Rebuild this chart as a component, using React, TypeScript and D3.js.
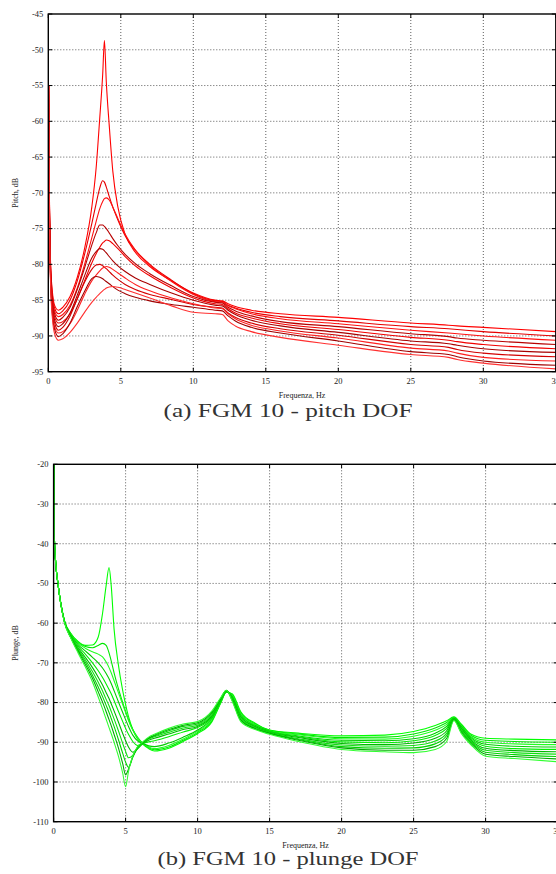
import React, { useEffect, useRef } from "react";
import * as d3 from "d3";

// ---- (a) pitch DOF ----
const pitchFreq = [0.02, 0.08, 0.16, 0.3, 0.45, 0.7, 1.0, 1.5, 2.0, 2.5, 3.0, 3.3, 3.55, 3.75, 3.87, 4.0, 4.2, 4.45, 4.8, 5.3, 6.0, 7.0, 8.5, 10, 11.5, 12.0, 12.4, 12.9, 14, 16, 20, 25, 27.6, 28.2, 30, 35];
const pitch1 = [-55, -71, -80, -84.2, -85.8, -86.4, -86.0, -84.5, -81.8, -77.8, -72.0, -66.5, -59.5, -53.5, -48.7, -54.5, -60.5, -67.0, -72.0, -75.8, -78.3, -80.3, -82.3, -84.0, -85.0, -85.1, -85.5, -85.9, -86.4, -86.9, -87.4, -88.2, -88.5, -88.6, -88.8, -89.4];
const pitch2 = [-55, -71.3, -80.3, -84.6, -86.2, -86.9, -86.5, -85.0, -82.3, -78.6, -74.3, -71.5, -69.3, -68.3, -68.5, -69.2, -70.5, -72.0, -73.8, -76.0, -78.0, -80.0, -82.2, -84.1, -85.1, -85.2, -85.7, -86.1, -86.7, -87.3, -87.9, -88.7, -89.0, -89.1, -89.4, -90.0];
const pitch3 = [-55, -71.6, -80.7, -85.0, -86.6, -87.3, -87.0, -85.7, -83.3, -80.0, -76.3, -74.0, -72.2, -71.2, -70.8, -70.7, -71.0, -72.0, -73.6, -75.8, -78.0, -80.1, -82.4, -84.2, -85.2, -85.3, -85.8, -86.2, -86.9, -87.6, -88.3, -89.2, -89.6, -89.7, -90.0, -90.6];
const pitch4 = [-55, -71.9, -81.0, -85.4, -87.0, -87.8, -87.4, -86.0, -83.5, -80.5, -77.3, -75.6, -74.5, -74.5, -74.7, -75.0, -75.6, -76.4, -77.4, -78.6, -79.9, -81.3, -83.0, -84.5, -85.3, -85.4, -86.0, -86.5, -87.2, -88.0, -88.7, -89.7, -90.1, -90.3, -90.6, -91.2];
const pitch5 = [-55, -72.2, -81.3, -85.8, -87.4, -88.2, -88.0, -86.9, -84.8, -82.3, -79.8, -78.5, -77.6, -77.0, -76.8, -76.6, -76.7, -77.1, -77.8, -78.9, -80.2, -81.6, -83.3, -84.7, -85.5, -85.6, -86.2, -86.8, -87.5, -88.3, -89.1, -90.2, -90.6, -90.8, -91.2, -91.8];
const pitch6 = [-55, -72.5, -81.6, -86.2, -87.9, -88.7, -88.3, -86.8, -84.3, -81.6, -79.1, -78.2, -77.8, -77.9, -78.1, -78.4, -78.9, -79.5, -80.2, -81.0, -81.9, -82.8, -84.0, -85.0, -85.7, -85.8, -86.4, -87.0, -87.8, -88.6, -89.5, -90.7, -91.1, -91.3, -91.8, -92.3];
const pitch7 = [-55, -72.8, -81.9, -86.6, -88.3, -89.2, -88.8, -87.2, -84.8, -82.5, -80.7, -80.1, -80.0, -80.2, -80.4, -80.6, -81.0, -81.5, -82.1, -82.8, -83.5, -84.2, -84.9, -85.6, -86.0, -86.1, -86.8, -87.4, -88.2, -89.0, -89.9, -91.2, -91.6, -91.9, -92.4, -92.9];
const pitch8 = [-55, -73.1, -82.2, -87.0, -88.8, -89.6, -89.4, -88.3, -86.4, -84.2, -82.3, -81.5, -80.9, -80.5, -80.4, -80.3, -80.4, -80.7, -81.2, -81.9, -82.8, -83.7, -84.7, -85.5, -86.1, -86.2, -86.9, -87.6, -88.5, -89.3, -90.3, -91.7, -92.1, -92.4, -93.0, -93.5];
const pitch9 = [-55, -73.4, -82.5, -87.4, -89.2, -90.1, -89.7, -88.2, -85.9, -83.8, -82.0, -81.7, -81.8, -82.0, -82.2, -82.4, -82.7, -83.1, -83.6, -84.1, -84.6, -85.1, -85.6, -86.0, -86.4, -86.5, -87.2, -87.9, -88.8, -89.6, -90.7, -92.2, -92.6, -92.9, -93.5, -94.1];
const pitch10 = [-55, -73.8, -83.0, -87.9, -89.8, -90.6, -90.4, -89.5, -88.2, -86.7, -85.3, -84.6, -84.1, -83.7, -83.5, -83.3, -83.15, -83.1, -83.2, -83.5, -84.0, -84.7, -85.8, -86.7, -86.9, -87.0, -87.9, -88.6, -89.4, -90.2, -91.3, -92.6, -93.0, -93.3, -93.8, -94.6];
const pitchColors = ["#ff0000", "#e60000", "#ff1010", "#b80000", "#f20000", "#a80000", "#d20000", "#ff2020", "#a00000", "#ff3030"];
const pitchTicks = [-45, -50, -55, -60, -65, -70, -75, -80, -85, -90, -95];

// ---- (b) plunge DOF ----
const plungeFreq = [0.01, 0.05, 0.15, 0.3, 0.75, 1.2, 1.7, 2.2, 2.7, 3.1, 3.4, 3.65, 3.85, 4.0, 4.2, 4.5, 4.8, 5.0, 5.2, 5.5, 5.85, 6.2, 6.6, 7.0, 8.0, 9.0, 10, 11, 11.6, 12.0, 12.4, 13, 14, 15, 17, 20, 23, 25, 26.5, 27.3, 27.8, 28.3, 29, 30, 32, 35];
const plunge1 = [-20, -38, -45, -50, -59.3, -62.6, -64.6, -65.6, -65.5, -63.5, -57.5, -50.5, -46.0, -50.5, -61.5, -70.5, -77.0, -80.5, -83.5, -86.8, -89.3, -90.5, -91.6, -92.2, -91.5, -89.8, -87.8, -84.8, -80.2, -77.4, -77.8, -82.3, -85.2, -86.9, -87.7, -88.4, -88.2, -87.3, -85.8, -84.6, -83.6, -85.4, -88.0, -89.0, -89.2, -89.4];
const plunge2 = [-20, -38, -45, -50, -59.4, -62.7, -64.8, -65.9, -66.2, -65.6, -65.1, -65.6, -67.5, -69.5, -72.5, -76.5, -80.0, -82.2, -84.3, -86.8, -88.8, -90.3, -91.4, -91.9, -91.2, -89.5, -87.5, -84.5, -80.0, -77.3, -78.0, -82.6, -85.4, -87.0, -87.9, -88.8, -88.7, -87.9, -86.4, -85.0, -83.7, -85.6, -88.3, -89.5, -89.8, -90.0];
const plunge3 = [-20, -38, -45, -50, -59.4, -62.8, -65.0, -66.3, -67.2, -67.8, -68.5, -69.8, -71.2, -72.5, -74.5, -77.5, -80.5, -82.5, -84.5, -87.0, -89.0, -90.3, -91.2, -91.6, -90.8, -89.2, -87.2, -84.2, -79.9, -77.2, -78.2, -82.9, -85.6, -87.1, -88.1, -89.1, -89.2, -88.5, -87.0, -85.5, -83.8, -85.8, -88.6, -90.0, -90.4, -90.6];
const plunge4 = [-20, -38, -45, -50, -59.5, -63.0, -65.4, -67.0, -68.6, -70.0, -71.3, -72.7, -74.0, -75.2, -77.0, -79.8, -82.5, -84.3, -86.0, -88.2, -89.7, -90.3, -90.9, -91.1, -90.2, -88.7, -86.9, -83.9, -79.7, -77.2, -78.4, -83.2, -85.8, -87.2, -88.4, -89.5, -89.6, -89.1, -87.7, -86.0, -83.9, -86.0, -88.9, -90.5, -91.0, -91.2];
const plunge5 = [-20, -38, -45, -50, -59.5, -63.2, -65.8, -67.8, -70.0, -72.0, -73.7, -75.3, -76.7, -77.8, -79.5, -82.2, -84.8, -86.5, -88.0, -89.8, -90.8, -90.3, -89.9, -89.6, -88.6, -87.4, -86.3, -83.6, -79.6, -77.1, -78.6, -83.5, -86.0, -87.3, -88.6, -89.9, -90.1, -89.6, -88.3, -86.5, -84.0, -86.3, -89.2, -91.0, -91.6, -91.8];
const plunge6 = [-20, -38, -45, -50, -59.6, -63.4, -66.2, -68.6, -71.2, -73.6, -75.6, -77.5, -79.0, -80.3, -82.1, -84.9, -87.8, -89.6, -91.2, -92.5, -91.6, -90.3, -89.5, -89.0, -87.9, -86.8, -86.0, -83.3, -79.4, -77.1, -78.8, -83.7, -86.1, -87.5, -88.8, -90.3, -90.6, -90.2, -89.0, -87.1, -84.1, -86.5, -89.5, -91.5, -92.1, -92.4];
const plunge7 = [-20, -38, -45, -50, -59.6, -63.5, -66.5, -69.2, -72.2, -74.9, -77.1, -79.2, -80.8, -82.2, -84.1, -87.1, -90.3, -92.3, -93.9, -93.3, -91.5, -90.2, -89.2, -88.6, -87.5, -86.4, -85.7, -83.0, -79.3, -77.0, -79.0, -84.0, -86.3, -87.6, -89.1, -90.7, -91.0, -90.8, -89.7, -87.7, -84.2, -86.8, -89.8, -92.0, -92.6, -93.0];
const plunge8 = [-20, -38, -45, -50, -59.7, -63.6, -66.8, -69.8, -73.1, -76.1, -78.5, -80.7, -82.5, -84.0, -86.0, -89.3, -92.8, -95.0, -96.3, -93.8, -91.2, -90.1, -89.0, -88.4, -87.1, -86.0, -85.4, -82.7, -79.1, -77.0, -79.2, -84.3, -86.5, -87.7, -89.3, -91.1, -91.5, -91.4, -90.4, -88.3, -84.3, -87.1, -90.1, -92.5, -93.1, -93.6];
const plunge9 = [-20, -38, -45, -50, -59.7, -63.7, -67.1, -70.4, -73.9, -77.3, -79.9, -82.3, -84.3, -85.8, -88.0, -91.4, -95.4, -98.2, -96.8, -93.6, -91.1, -90.0, -88.9, -88.2, -86.8, -85.7, -85.1, -82.4, -79.0, -76.9, -79.4, -84.5, -86.6, -87.8, -89.5, -91.4, -92.0, -92.0, -91.1, -89.0, -84.4, -87.4, -90.4, -93.0, -93.6, -94.2];
const plunge10 = [-20, -38, -45, -50, -59.8, -63.8, -67.5, -71.0, -74.8, -78.6, -81.6, -84.2, -86.3, -87.8, -90.0, -93.5, -97.8, -101.2, -97.4, -93.4, -91.0, -89.9, -88.7, -88.0, -86.5, -85.4, -84.8, -82.1, -78.8, -76.9, -79.6, -84.8, -86.8, -88.0, -89.8, -91.8, -92.4, -92.6, -91.8, -89.8, -84.5, -87.7, -90.7, -93.5, -94.1, -94.9];
const plungeColors = ["#00ff00", "#00e600", "#20ff20", "#00cc00", "#00f000", "#00b800", "#10e010", "#00d400", "#00aa00", "#30ff30"];
const plungeTicks = [-20, -30, -40, -50, -60, -70, -80, -90, -100, -110];

const freqTicks = [0, 5, 10, 15, 20, 25, 30, 35];

const SERIF = "'Liberation Serif', 'Times New Roman', serif";

function drawPanel(svg, o) {
  const x = d3.scaleLinear().domain([0, 35]).range([o.left, o.right]);
  const y = d3.scaleLinear().domain(o.yDomain).range([o.bottom, o.top]);
  const g = svg.append("g");

  g.append("clipPath")
    .attr("id", o.id)
    .append("rect")
    .attr("x", o.left)
    .attr("y", o.top)
    .attr("width", o.right - o.left)
    .attr("height", o.bottom - o.top);

  // grid
  g.selectAll(".vg")
    .data(freqTicks.filter((t) => t > 0 && t < 35))
    .join("line")
    .attr("x1", (d) => x(d))
    .attr("x2", (d) => x(d))
    .attr("y1", o.top)
    .attr("y2", o.bottom)
    .attr("stroke", "#333")
    .attr("stroke-width", 0.8)
    .attr("stroke-dasharray", "1,2");
  g.selectAll(".hg")
    .data(o.yTicks.slice(1, -1))
    .join("line")
    .attr("x1", o.left)
    .attr("x2", o.right)
    .attr("y1", (d) => y(d))
    .attr("y2", (d) => y(d))
    .attr("stroke", "#333")
    .attr("stroke-width", 0.8)
    .attr("stroke-dasharray", "1,2");

  // curves
  const line = d3
    .line()
    .x((d) => x(d[0]))
    .y((d) => y(d[1]))
    .curve(d3.curveMonotoneX);
  const curves = g.append("g").attr("clip-path", `url(#${o.id})`);
  o.series.forEach((vals, i) => {
    curves
      .append("path")
      .attr("d", line(o.freq.map((f, j) => [f, vals[j]])))
      .attr("fill", "none")
      .attr("stroke", o.colors[i])
      .attr("stroke-width", 1.1);
  });

  // ticks (mirrored, inward)
  const tk = 4;
  freqTicks.forEach((t) => {
    g.append("line").attr("x1", x(t)).attr("x2", x(t)).attr("y1", o.bottom).attr("y2", o.bottom - tk).attr("stroke", "#000");
    g.append("line").attr("x1", x(t)).attr("x2", x(t)).attr("y1", o.top).attr("y2", o.top + tk).attr("stroke", "#000");
  });
  o.yTicks.forEach((t) => {
    g.append("line").attr("x1", o.left).attr("x2", o.left + tk).attr("y1", y(t)).attr("y2", y(t)).attr("stroke", "#000");
    g.append("line").attr("x1", o.right).attr("x2", o.right - tk).attr("y1", y(t)).attr("y2", y(t)).attr("stroke", "#000");
  });

  // frame
  g.append("rect")
    .attr("x", o.left)
    .attr("y", o.top)
    .attr("width", o.right - o.left)
    .attr("height", o.bottom - o.top)
    .attr("fill", "none")
    .attr("stroke", "#000")
    .attr("stroke-width", 1.4);

  // tick labels
  g.selectAll(".xl")
    .data(freqTicks)
    .join("text")
    .attr("x", (d) => x(d))
    .attr("y", o.bottom + 12.5)
    .attr("text-anchor", "middle")
    .attr("font-family", SERIF)
    .attr("font-size", 8.5)
    .attr("fill", "#222")
    .text((d) => d);
  g.selectAll(".yl")
    .data(o.yTicks)
    .join("text")
    .attr("x", o.left - 5)
    .attr("y", (d) => y(d))
    .attr("dy", "0.33em")
    .attr("text-anchor", "end")
    .attr("font-family", SERIF)
    .attr("font-size", 8.5)
    .attr("fill", "#222")
    .text((d) => d);

  // axis titles
  g.append("text")
    .attr("x", (o.left + o.right) / 2)
    .attr("y", o.bottom + 26)
    .attr("text-anchor", "middle")
    .attr("font-family", SERIF)
    .attr("font-size", 8)
    .attr("fill", "#222")
    .text("Frequenza, Hz");
  const my = (o.top + o.bottom) / 2;
  g.append("text")
    .attr("transform", `translate(17.5,${my}) rotate(-90)`)
    .attr("text-anchor", "middle")
    .attr("font-family", SERIF)
    .attr("font-size", 8)
    .attr("fill", "#222")
    .text(o.yLabel);

  // caption
  g.append("text")
    .attr("x", 288 - o.captionWidth / 2)
    .attr("y", o.captionY)
    .attr("font-family", SERIF)
    .attr("font-size", 19)
    .attr("fill", "#333")
    .attr("textLength", o.captionWidth)
    .attr("lengthAdjust", "spacingAndGlyphs")
    .text(o.caption);
}

const App = () => {
  const svgRef = useRef(null);

  useEffect(() => {
    const svg = d3.select(svgRef.current);
    svg.selectAll("*").remove();

    drawPanel(svg, {
      id: "clipPitch",
      left: 48.3,
      right: 555.8,
      top: 14,
      bottom: 371.7,
      yDomain: [-95, -45],
      yTicks: pitchTicks,
      freq: pitchFreq,
      series: [pitch1, pitch2, pitch3, pitch4, pitch5, pitch6, pitch7, pitch8, pitch9, pitch10],
      colors: pitchColors,
      yLabel: "Pitch, dB",
      caption: "(a) FGM 10 - pitch DOF",
      captionY: 417,
      captionWidth: 249,
    });

    drawPanel(svg, {
      id: "clipPlunge",
      left: 53.6,
      right: 557.6,
      top: 464.3,
      bottom: 821.7,
      yDomain: [-110, -20],
      yTicks: plungeTicks,
      freq: plungeFreq,
      series: [plunge1, plunge2, plunge3, plunge4, plunge5, plunge6, plunge7, plunge8, plunge9, plunge10],
      colors: plungeColors,
      yLabel: "Plunge, dB",
      caption: "(b) FGM 10 - plunge DOF",
      captionY: 865,
      captionWidth: 261,
    });
  }, []);

  return (
    <div style={{ position: "absolute", left: 0, top: 0, background: "#fff" }}>
      <svg ref={svgRef} width={556} height={874} style={{ display: "block" }} />
    </div>
  );
};

export default App;
